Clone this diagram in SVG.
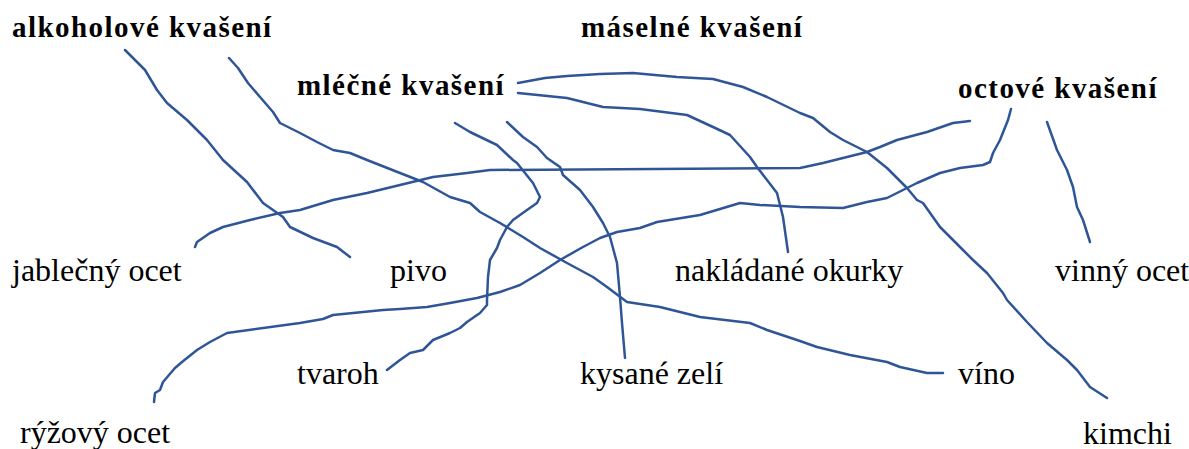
<svg xmlns="http://www.w3.org/2000/svg" width="1189" height="449" viewBox="0 0 1189 449">
<style>
text{font-family:'Liberation Serif','Tinos','Times New Roman','DejaVu Serif',serif;fill:#000}
.h{font-weight:700;font-size:29px;letter-spacing:1.45px}
.t{font-size:32px}
.c{fill:none;stroke:#2f5597;stroke-width:2.5;stroke-linejoin:round;stroke-linecap:round}
</style>
<rect width="1189" height="449" fill="#fff"/>
<g id="alkoholove"><text class="h" x="12" y="37">alkoholové kvašení</text></g>
<g id="maselne"><text class="h" x="581" y="37">máselné kvašení</text></g>
<g id="mlecne"><text class="h" x="297" y="95">mléčné kvašení</text></g>
<g id="octove"><text class="h" x="958" y="98">octové kvašení</text></g>
<g id="jablecny"><text class="t" x="12" y="281">jablečný ocet</text></g>
<g id="pivo"><text class="t" x="390" y="281">pivo</text></g>
<g id="nakladane"><text class="t" x="675" y="281">nakládané okurky</text></g>
<g id="vinny"><text class="t" x="1055" y="281">vinný ocet</text></g>
<g id="tvaroh"><text class="t" x="297" y="384">tvaroh</text></g>
<g id="kysane"><text class="t" x="580" y="384">kysané zelí</text></g>
<g id="vino"><text class="t" x="958" y="384">víno</text></g>
<g id="ryzovy"><text class="t" x="20" y="443">rýžový ocet</text></g>
<g id="kimchi"><text class="t" x="1083" y="444">kimchi</text></g>
<g id="connectors">
<polyline class="c" points="125,50 145,70 157,90 167,103 187,120 207,140 223,160 247,182 263,203 283,217 290,227 313,238 337,247 350,257"/>
<polyline class="c" points="229,58 238,68 248,83 260,97 273,112 280,123 300,133 317,142 333,150 350,153 367,160 400,173 423,182 450,197 470,203 480,212 500,223 523,237 540,248 567,263 593,277 607,287 627,302 660,307 700,317 750,323 767,330 800,341 817,347 850,355 887,362 900,367 927,373 943,373"/>
<polyline class="c" points="518,83 545,78 567,76 600,74 633,73 677,77 713,79 743,87 767,97 800,113 813,118 830,132 843,140 867,152 887,168 907,188 917,200 923,203 940,227 960,247 973,260 987,273 1003,293 1007,300 1027,322 1047,343 1067,360 1077,370 1090,387 1107,398"/>
<polyline class="c" points="518,93 567,98 603,107 640,109 687,115 713,127 730,135 750,157 757,167 777,193 783,217 788,252"/>
<polyline class="c" points="455,123 470,132 497,145 513,160 517,163 533,183 540,197 537,203 527,210 513,220 507,227 500,240 497,248 490,260 488,277 487,300 487,305 480,313 467,322 460,328 450,333 433,340 423,350 410,353 400,360 387,370"/>
<polyline class="c" points="507,122 523,137 537,147 547,158 560,167 563,175 580,190 593,207 603,223 610,237 617,263 620,297 622,323 625,358"/>
<polyline class="c" points="970,121 953,123 927,132 897,140 880,147 867,152 843,158 823,163 800,168 490,170 467,173 433,177 400,185 367,193 333,200 300,210 280,213 250,220 223,227 210,233 197,242 195,247"/>
<polyline class="c" points="1011,109 1008,120 1000,140 993,153 990,162 983,165 960,168 940,173 917,183 903,190 887,198 867,202 843,208 800,207 760,205 740,203 700,215 657,222 640,228 617,232 600,238 583,247 560,260 540,273 520,285 500,292 477,298 450,303 427,307 400,309 383,310 333,315 323,319 300,323 227,333 210,342 197,350 182,362 175,368 163,382 160,390 155,393 154,402"/>
<polyline class="c" points="1047,122 1057,150 1067,170 1073,187 1077,207 1083,220 1090,242"/>
</g>
</svg>
